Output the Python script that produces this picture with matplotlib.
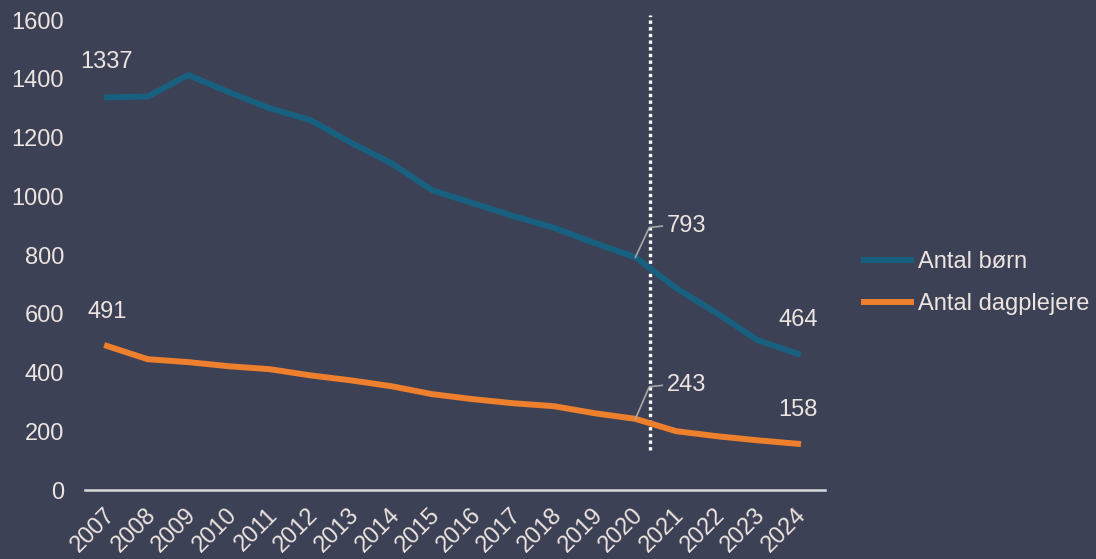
import matplotlib.pyplot as plt
from matplotlib.transforms import ScaledTranslation

years = list(range(2007, 2025))
boern = [1337, 1340, 1413, 1355, 1300, 1260, 1183, 1113, 1021, 977, 933, 893, 841, 793, 688, 603, 511, 464]
dagplejere = [491, 446, 436, 422, 412, 391, 374, 354, 327, 310, 296, 286, 262, 243, 201, 184, 170, 158]
tick_labels = [str(y) for y in years]

bg = '#3d4155'
txt = '#ece4e0'
blue = '#17607f'
orange = '#ee7f2d'

plt.rcParams['font.family'] = ['Liberation Sans', 'DejaVu Sans']

fig = plt.figure(figsize=(10.96, 5.59), dpi=100, facecolor=bg)
ax = fig.add_axes([0.0776, 0.123, 0.675, 0.841], facecolor=bg)

ax.plot(years, boern, color=blue, lw=4.3, label='Antal børn')
ax.plot(years, dagplejere, color=orange, lw=4.3, label='Antal dagplejere')

# vertical dotted marker between 2020 and 2021
ax.plot([2020.35, 2020.35], [136, 1617], color='white', lw=2.4,
        linestyle=(0, (1, 1)), clip_on=False, zorder=1)

fs = 17
# end labels
ax.text(2007, 1457, str(boern[0]), color=txt, fontsize=fs, ha='center', va='center')
ax.text(2007, 606, str(dagplejere[0]), color=txt, fontsize=fs, ha='center', va='center')
ax.text(2024, 579, str(boern[-1]), color=txt, fontsize=fs, ha='center', va='center')
ax.text(2024, 272, str(dagplejere[-1]), color=txt, fontsize=fs, ha='center', va='center')

# 2020 labels with leader lines
for v, ly in [(793, 899), (243, 357)]:
    ax.plot([2020, 2020.34, 2020.66], [v, ly - 5, ly], color='#a8a8a8', lw=1.2)
    ax.text(2020.78, ly, str(v), color=txt, fontsize=fs, ha='left', va='center')

ax.set_xlim(2006.46, 2024.66)
ax.set_ylim(0, 1600)
ax.set_yticks(range(0, 1601, 200))
ax.set_xticks(years)
ax.set_xticklabels(tick_labels, rotation=45, ha='right', rotation_mode='anchor')

for s in ['top', 'right', 'left']:
    ax.spines[s].set_visible(False)
ax.spines['bottom'].set_color('#d9d9d9')
ax.spines['bottom'].set_linewidth(1.8)
ax.tick_params(axis='both', length=0, colors=txt, labelsize=fs)
ax.tick_params(axis='y', pad=15)
ax.tick_params(axis='x', pad=4)

# nudge rotated year labels down/left (after tick_params, which resets transforms)
shift = ScaledTranslation(-3 / 100, -8 / 100, fig.dpi_scale_trans)
for lab in ax.get_xticklabels():
    lab.set_transform(lab.get_transform() + shift)

leg = ax.legend(loc='center left', bbox_to_anchor=(1.04, 0.44), frameon=False,
                fontsize=fs, handlelength=2.0, handletextpad=0.3, labelspacing=0.85,
                borderaxespad=0)
for t in leg.get_texts():
    t.set_color(txt)

fig.savefig('out.png', dpi=100, facecolor=bg)
